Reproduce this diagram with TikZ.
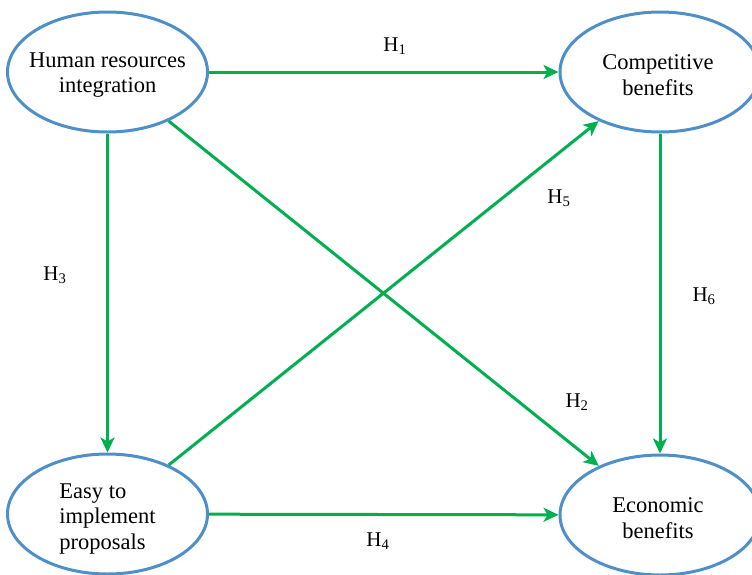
\documentclass[tikz,border=0pt]{standalone}
\usepackage{fontspec}
\setmainfont{Liberation Serif}
\usetikzlibrary{shapes.geometric,arrows.meta}
\definecolor{ringblue}{RGB}{79,143,200}
\definecolor{linkgreen}{RGB}{0,176,80}
\tikzset{
  factor/.style={ellipse, draw=ringblue, line width=3pt, minimum width=200pt,
    minimum height=120pt, inner sep=0pt},
  caption/.style={font=\fontsize{22.5}{25.5}\selectfont, inner sep=0pt},
  link/.style={draw=linkgreen, line width=3pt,
    -{Stealth[length=15pt,width=14pt,inset=4pt]}},
  hyp/.style={font=\fontsize{21}{24}\selectfont, inner sep=0pt}
}
\begin{document}
\begin{tikzpicture}[x=1pt,y=-1pt]
  \useasboundingbox (0,0) rectangle (752,574);
  % four factors
  \node[factor] (hr)   at (107.5,72)  {};
  \node[factor] (comp) at (660,72)    {};
  \node[factor] (easy) at (107.5,514) {};
  \node[factor] (eco)  at (660,515)   {};
  \node[caption, align=center] (hrt)   at (107.5,75) {Human resources\\integration};
  \node[caption, align=center] (compt) at (658,75)   {Competitive\\benefits};
  \node[caption, align=left]   (easyt) at (107.5,519) {Easy to\\implement\\proposals};
  \node[caption, align=center] (ecot)  at (658,518)  {Economic\\benefits};

  % hypothesised effects
  \draw[link] (hr) -- (comp);
  \draw[link] (hr) -- (easy);
  \draw[link] (comp) -- (eco);
  \draw[link] (easy) -- (eco);
  \draw[link] (hr) -- (eco);
  \draw[link] (easy) -- (comp);

  \node[hyp] (h1) at (395,46)  {H\textsubscript{1}};
  \node[hyp] (h2) at (577,402) {H\textsubscript{2}};
  \node[hyp] (h3) at (55,275)  {H\textsubscript{3}};
  \node[hyp] (h4) at (378,541) {H\textsubscript{4}};
  \node[hyp] (h5) at (559,198) {H\textsubscript{5}};
  \node[hyp] (h6) at (704,296) {H\textsubscript{6}};
\end{tikzpicture}
\end{document}
